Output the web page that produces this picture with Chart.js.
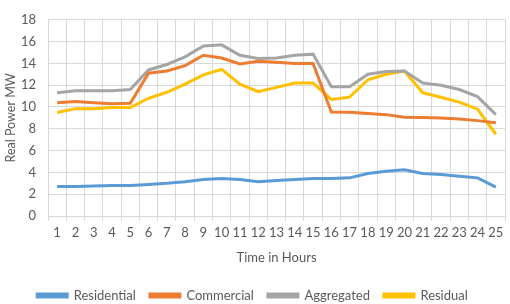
<!DOCTYPE html>
<html>
<head>
<meta charset="utf-8">
<script src="https://cdn.jsdelivr.net/npm/chart.js@4"></script>
<style>
  html, body { margin: 0; padding: 0; background: #fff; }
  #wrap { width: 510px; height: 304px; }
</style>
</head>
<body>
<div id="wrap"><canvas id="powerChart" width="510" height="304"></canvas></div>
<script>
// Horas 1..25
const hours = ['1','2','3','4','5','6','7','8','9','10','11','12','13','14','15','16','17','18','19','20','21','22','23','24','25'];

// Series (MW)
const residential = [2.7, 2.7, 2.75, 2.8, 2.8, 2.9, 3.0, 3.15, 3.35, 3.45, 3.35, 3.15, 3.25, 3.35, 3.45, 3.45, 3.5, 3.9, 4.1, 4.25, 3.9, 3.8, 3.65, 3.5, 2.65];
const commercial = [10.4, 10.5, 10.4, 10.3, 10.35, 13.1, 13.3, 13.8, 14.75, 14.5, 13.95, 14.2, 14.1, 14.0, 14.0, 9.55, 9.52, 9.4, 9.3, 9.05, 9.03, 9.0, 8.9, 8.75, 8.55];
const aggregated = [11.3, 11.5, 11.5, 11.5, 11.6, 13.4, 13.9, 14.6, 15.6, 15.7, 14.75, 14.45, 14.5, 14.75, 14.85, 11.85, 11.85, 13.0, 13.25, 13.3, 12.2, 12.0, 11.6, 10.95, 9.3];
const residual = [9.5, 9.85, 9.85, 9.95, 9.95, 10.8, 11.35, 12.1, 12.95, 13.45, 12.1, 11.4, 11.8, 12.2, 12.2, 10.7, 10.9, 12.5, 13.0, 13.3, 11.3, 10.9, 10.45, 9.8, 7.5];

const yTicks = [0, 2, 4, 6, 8, 10, 12, 14, 16, 18];

const gridColor = '#d9d9d9';
const textColor = '#595959';
const fontFamily = 'Lato, "Open Sans", sans-serif';

// Altura fija de la leyenda para que el área del gráfico quede como en el original
const legendHeight = {
    id: 'legendHeight',
    afterInit(chart) {
        const legend = chart.legend;
        if (!legend) return;
        const origFit = legend.fit.bind(legend);
        legend.fit = function() {
            origFit();
            this.height = 29;
        };
    }
};

function serie(label, data, color) {
    return {
        label: label,
        data: data,
        borderColor: color,
        backgroundColor: color,
        borderWidth: 3,
        pointRadius: 0,
        tension: 0,
        fill: false
    };
}

const ctx = document.getElementById('powerChart').getContext('2d');
new Chart(ctx, {
    type: 'line',
    data: {
        labels: hours,
        datasets: [
            serie('Residential', residential, '#5b9bd5'),
            serie('Commercial', commercial, '#ed7d31'),
            serie('Aggregated', aggregated, '#a5a5a5'),
            serie('Residual', residual, '#ffc000')
        ]
    },
    plugins: [legendHeight],
    options: {
        responsive: false,
        animation: false,
        layout: { padding: { left: 0, right: 5, top: 2, bottom: 0 } },
        scales: {
            x: {
                offset: true,
                grid: { offset: true, color: gridColor, drawTicks: true, tickLength: 5, tickColor: gridColor },
                border: { color: gridColor },
                ticks: { color: textColor, font: { family: fontFamily, size: 13 }, maxRotation: 0, autoSkip: false, padding: 4 },
                title: { display: true, text: 'Time in Hours', color: textColor, font: { family: fontFamily, size: 13 }, padding: { top: 6, bottom: 9 } },
                afterFit: function(scale) { scale.height = 59; }
            },
            y: {
                min: 0,
                max: 18,
                afterBuildTicks: function(scale) {
                    scale.ticks = yTicks.map(v => ({ value: v }));
                },
                grid: { color: gridColor, drawTicks: false },
                border: { color: gridColor },
                ticks: { color: textColor, font: { family: fontFamily, size: 13 }, padding: 12 },
                title: { display: true, text: 'Real Power MW', color: textColor, font: { family: fontFamily, size: 12.5 }, padding: { top: 3, bottom: 0 } },
                afterFit: function(scale) { scale.width = 48; }
            }
        },
        plugins: {
            legend: {
                position: 'bottom',
                labels: {
                    boxWidth: 30,
                    boxHeight: 3,
                    color: textColor,
                    font: { family: fontFamily, size: 13 },
                    padding: 14
                }
            },
            tooltip: { enabled: false }
        }
    }
});
</script>
</body>
</html>
